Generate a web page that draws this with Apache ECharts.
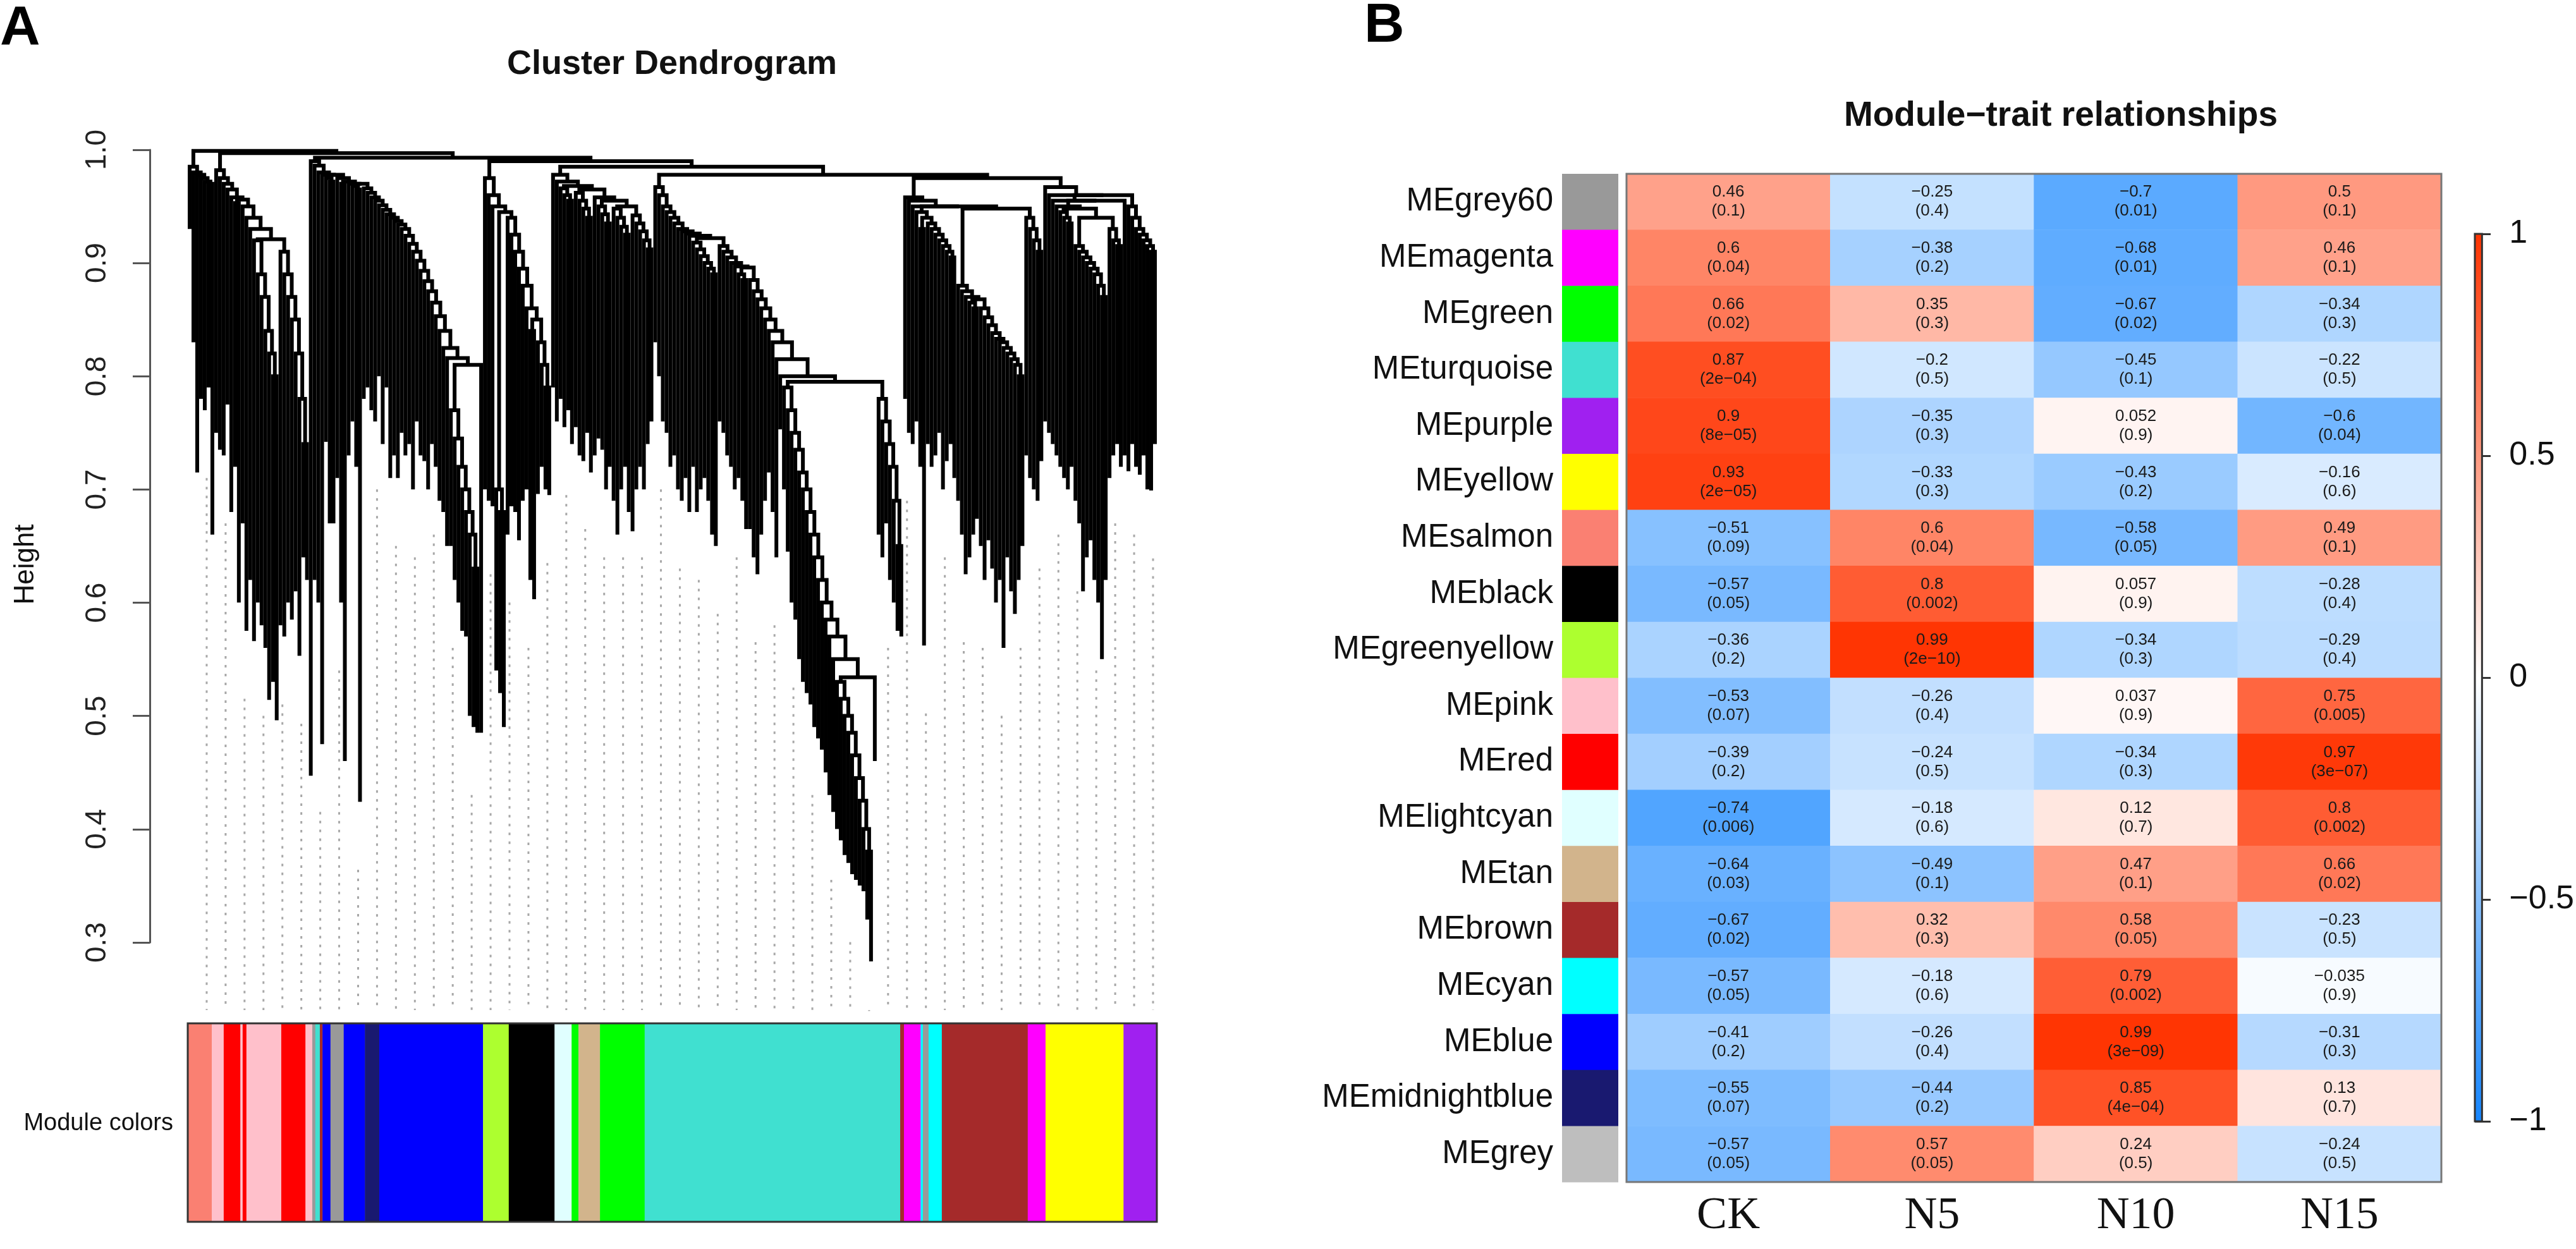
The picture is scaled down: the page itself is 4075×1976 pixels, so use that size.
<!DOCTYPE html>
<html>
<head>
<meta charset="utf-8">
<title>Cluster dendrogram and module-trait relationships</title>
<script src="https://cdn.jsdelivr.net/npm/echarts@6/dist/echarts.min.js"></script>
<style>
  html, body { margin: 0; padding: 0; background: #fff; }
  #main { width: 4075px; height: 1976px; }
</style>
</head>
<body>
<div id="main"></div>
<script>
// Panel A: where each leaf (collapsed branch) ends, left to right
const leafBottoms = [
  0.93, 0.83, 0.715, 0.78, 0.77, 0.79, 0.66,
  0.75, 0.735, 0.73, 0.775, 0.68, 0.72, 0.60,
  0.67, 0.575, 0.62, 0.566, 0.60, 0.58, 0.56, 0.514, 0.53, 0.496,
  0.58, 0.57, 0.60, 0.585, 0.61, 0.553, 0.64, 0.62,
  0.447, 0.62, 0.60, 0.475, 0.742, 0.67, 0.67, 0.71, 0.60, 0.46, 0.73, 0.76, 0.72,
  0.424, 0.78, 0.79, 0.77, 0.76, 0.80, 0.74, 0.79, 0.71, 0.73, 0.71, 0.75, 0.73, 0.74, 0.70, 0.76, 0.73, 0.725, 0.70, 0.74, 0.72, 0.69, 0.68, 0.65,
  0.65, 0.62, 0.60, 0.575, 0.57, 0.50, 0.49, 0.485, 0.485,
  0.70, 0.69, 0.685, 0.54, 0.52, 0.49, 0.66, 0.685, 0.68, 0.655, 0.69, 0.70, 0.62, 0.603, 0.696, 0.72, 0.70, 0.695,
  0.79, 0.76, 0.78, 0.755, 0.77, 0.74, 0.755, 0.73, 0.725, 0.75, 0.715, 0.73, 0.745, 0.735, 0.70, 0.72, 0.69, 0.66, 0.70, 0.72, 0.68, 0.663, 0.70, 0.72, 0.70, 0.74, 0.76,
  0.83, 0.80, 0.76, 0.75, 0.72, 0.73, 0.70, 0.69, 0.71, 0.68,
  0.72, 0.68, 0.70, 0.71, 0.69, 0.66, 0.65,
  0.76, 0.75, 0.73, 0.72, 0.70, 0.71, 0.69, 0.665,
  0.665, 0.64, 0.625, 0.66, 0.69, 0.715, 0.68, 0.64,
  0.753, 0.70, 0.645, 0.60, 0.585, 0.55, 0.53, 0.52, 0.51, 0.49, 0.48, 0.47, 0.45, 0.43, 0.415, 0.40, 0.39, 0.377, 0.37, 0.36, 0.355, 0.35, 0.345, 0.32, 0.283, 0.46,
  0.66, 0.64, 0.67, 0.62, 0.60, 0.575, 0.57,
  0.78, 0.75, 0.74, 0.76, 0.72, 0.562,
  0.74, 0.72, 0.73, 0.75, 0.70, 0.725, 0.74, 0.71,
  0.69, 0.66, 0.625, 0.64, 0.66, 0.674, 0.65, 0.62, 0.655, 0.63, 0.60, 0.62, 0.56, 0.64, 0.61, 0.59, 0.62, 0.65,
  0.73, 0.71, 0.70, 0.69, 0.725,
  0.76, 0.75, 0.74, 0.73, 0.72, 0.71, 0.70, 0.72,
  0.69, 0.67, 0.61, 0.64, 0.655, 0.62, 0.60, 0.55, 0.62,
  0.71, 0.73, 0.74, 0.72,
  0.73, 0.716, 0.74, 0.72, 0.713, 0.73, 0.70, 0.699, 0.74
];

// merge height between leaf i and leaf i + 1
const mergeHeights = [
  0.985, 0.98, 0.978, 0.975, 0.972, 0.97, 0.999,
  0.982, 0.975, 0.97, 0.965, 0.958, 0.953, 0.956,
  0.95, 0.94, 0.93, 0.92, 0.89, 0.87, 0.84, 0.82, 0.80, 0.921,
  0.91, 0.89, 0.87, 0.85, 0.82, 0.78, 0.74, 0.997,
  0.99, 0.986, 0.98, 0.978, 0.975, 0.972, 0.978, 0.975, 0.97, 0.972, 0.97, 0.968, 0.965,
  0.97, 0.966, 0.962, 0.958, 0.955, 0.951, 0.947, 0.943, 0.94, 0.937, 0.934, 0.93, 0.924, 0.917, 0.91, 0.902, 0.893, 0.884, 0.875, 0.865, 0.853, 0.84, 0.825, 0.816,
  0.77, 0.745, 0.72, 0.70, 0.68, 0.66, 0.63, 0.81, 0.993,
  0.975, 0.96, 0.95, 0.70, 0.68, 0.945, 0.94, 0.925, 0.91, 0.895, 0.88, 0.86, 0.84, 0.85, 0.83, 0.81, 0.79, 0.99,
  0.978, 0.972, 0.966, 0.96, 0.955, 0.968, 0.962, 0.955, 0.948, 0.94, 0.965, 0.958, 0.95, 0.943, 0.935, 0.955, 0.948, 0.94, 0.932, 0.925, 0.95, 0.942, 0.935, 0.928, 0.92, 0.912, 0.985,
  0.967, 0.96, 0.95, 0.945, 0.94, 0.935, 0.93, 0.928, 0.926, 0.924,
  0.918, 0.912, 0.906, 0.90, 0.895, 0.89, 0.922,
  0.915, 0.91, 0.905, 0.90, 0.897, 0.89, 0.885, 0.896,
  0.885, 0.875, 0.868, 0.86, 0.85, 0.84, 0.83, 0.815,
  0.80, 0.79, 0.77, 0.75, 0.735, 0.715, 0.70, 0.68, 0.66, 0.64, 0.62, 0.60, 0.585, 0.57, 0.55, 0.53, 0.515, 0.50, 0.485, 0.465, 0.445, 0.425, 0.40, 0.38, 0.534, 0.795,
  0.78, 0.76, 0.74, 0.72, 0.69, 0.65, 0.978,
  0.958, 0.955, 0.95, 0.945, 0.93, 0.94,
  0.935, 0.93, 0.925, 0.92, 0.915, 0.91, 0.905, 0.95,
  0.88, 0.875, 0.87, 0.865, 0.86, 0.868, 0.86, 0.852, 0.845, 0.838, 0.833, 0.83, 0.825, 0.82, 0.815, 0.81, 0.80, 0.948,
  0.94, 0.93, 0.92, 0.91, 0.975,
  0.967, 0.96, 0.955, 0.95, 0.945, 0.94, 0.935, 0.948,
  0.915, 0.91, 0.905, 0.90, 0.895, 0.89, 0.88, 0.87, 0.94,
  0.93, 0.92, 0.915, 0.955,
  0.96, 0.95, 0.94, 0.93, 0.925, 0.92, 0.915, 0.91
];

// module colour bar under the tree: colour name and right end (in leaf units)
const moduleColorNames = [
  'salmon', 'pink', 'red', 'pink', 'red', 'pink', 'red', 'pink', 'grey60', 'turquoise',
  'brown', 'blue', 'grey60', 'blue', 'midnightblue', 'blue', 'greenyellow', 'black',
  'lightcyan', 'green', 'tan', 'green', 'turquoise', 'brown', 'magenta', 'cyan', 'grey60',
  'cyan', 'brown', 'magenta', 'yellow', 'purple'
];
const moduleColorEnds = [
  5.85, 9.0, 13.4, 14.0, 15.0, 24.2, 30.6, 32.4, 33.2, 34.4,
  35.1, 37.2, 40.7, 46.3, 50.1, 77.5, 84.3, 96.4,
  100.9, 102.7, 108.4, 120.2, 187.7, 188.7, 193.1, 193.7, 195.2,
  198.7, 221.4, 226.1, 246.7, 255.5
];

// Panel B: module eigengene / trait correlations and p-values
const traitNames = ['CK', 'N5', 'N10', 'N15'];
const moduleNames = [
  'MEgrey60', 'MEmagenta', 'MEgreen', 'MEturquoise', 'MEpurple', 'MEyellow', 'MEsalmon',
  'MEblack', 'MEgreenyellow', 'MEpink', 'MEred', 'MElightcyan', 'MEtan', 'MEbrown',
  'MEcyan', 'MEblue', 'MEmidnightblue', 'MEgrey'
];
const corCK = [0.46, 0.6, 0.66, 0.87, 0.9, 0.93, -0.51, -0.57, -0.36, -0.53, -0.39, -0.74, -0.64, -0.67, -0.57, -0.41, -0.55, -0.57];
const corN5 = [-0.25, -0.38, 0.35, -0.2, -0.35, -0.33, 0.6, 0.8, 0.99, -0.26, -0.24, -0.18, -0.49, 0.32, -0.18, -0.26, -0.44, 0.57];
const corN10 = [-0.7, -0.68, -0.67, -0.45, 0.052, -0.43, -0.58, 0.057, -0.34, 0.037, -0.34, 0.12, 0.47, 0.58, 0.79, 0.99, 0.85, 0.24];
const corN15 = [0.5, 0.46, -0.34, -0.22, -0.6, -0.16, 0.49, -0.28, -0.29, 0.75, 0.97, 0.8, 0.66, -0.23, -0.035, -0.31, 0.13, -0.24];
const pCK = ['0.1', '0.04', '0.02', '2e-04', '8e-05', '2e-05', '0.09', '0.05', '0.2', '0.07', '0.2', '0.006', '0.03', '0.02', '0.05', '0.2', '0.07', '0.05'];
const pN5 = ['0.4', '0.2', '0.3', '0.5', '0.3', '0.3', '0.04', '0.002', '2e-10', '0.4', '0.5', '0.6', '0.1', '0.3', '0.6', '0.4', '0.2', '0.05'];
const pN10 = ['0.01', '0.01', '0.02', '0.1', '0.9', '0.2', '0.05', '0.9', '0.3', '0.9', '0.3', '0.7', '0.1', '0.05', '0.002', '3e-09', '4e-04', '0.5'];
const pN15 = ['0.1', '0.1', '0.3', '0.5', '0.04', '0.6', '0.1', '0.4', '0.4', '0.005', '3e-07', '0.002', '0.02', '0.5', '0.9', '0.3', '0.7', '0.5'];

const heightTicks = { min: 0.3, max: 1.0, step: 0.1 };
const colorbarTicks = { min: -1, max: 1, step: 0.5 };

// R colour names used for the modules
const rColors = {
  grey60: '#999999', magenta: '#FF00FF', green: '#00FF00', turquoise: '#40E0D0',
  purple: '#A020F0', yellow: '#FFFF00', salmon: '#FA8072', black: '#000000',
  greenyellow: '#ADFF2F', pink: '#FFC0CB', red: '#FF0000', lightcyan: '#E0FFFF',
  tan: '#D2B48C', brown: '#A52A2A', cyan: '#00FFFF', blue: '#0000FF',
  midnightblue: '#191970', grey: '#BEBEBE'
};
const BLUE_END = '#1485FF';
const RED_END = '#FF3300';
const SANS = '"Liberation Sans", Arial, Helvetica, sans-serif';
const SERIF = '"Liberation Serif", "Times New Roman", serif';

const minus = (s) => String(s).replace(/-/g, '\u2212');

/**
 * Build dendrogram segments: the largest gap splits a range of leaves,
 * each merge is drawn as the usual upside-down U.
 */
function buildTree(lo, hi, segs) {
  if (lo === hi) return { x: lo, h: leafBottoms[lo] };
  let k = lo;
  for (let i = lo + 1; i < hi; i++) {
    if (mergeHeights[i] > mergeHeights[k]) k = i;
  }
  const left = buildTree(lo, k, segs);
  const right = buildTree(k + 1, hi, segs);
  const h = mergeHeights[k];
  segs.push({ coords: [[left.x, left.h], [left.x, h], [right.x, h], [right.x, right.h]] });
  return { x: (left.x + right.x) / 2, h };
}

const treeSegments = [];
buildTree(0, leafBottoms.length - 1, treeSegments);

// dotted guide lines below the leaves
const guideSegments = [];
for (let i = 4; i + 1 < leafBottoms.length; i += 5) {
  const top = Math.min(leafBottoms[i], leafBottoms[i + 1]) - 0.06;
  guideSegments.push({ coords: [[i + 0.5, top], [i + 0.5, 0.24]] });
}

const colorBarData = moduleColorEnds.map((end, i) => [i === 0 ? -0.5 : moduleColorEnds[i - 1], end]);

const corColumns = [corCK, corN5, corN10, corN15];
const pColumns = [pCK, pN5, pN10, pN15];
const heatData = [];
corColumns.forEach((col, xi) => {
  col.forEach((v, yi) => {
    heatData.push({ value: [xi, yi, v], p: pColumns[xi][yi] });
  });
});

const leafMax = leafBottoms.length - 0.5;

const chart = echarts.init(document.getElementById('main'));

const option = {
  animation: false,
  backgroundColor: '#ffffff',
  grid: [
    { left: 237, top: 237, width: 1, height: 1254 },
    { left: 297, top: 237, width: 1533, height: 1361 },
    { left: 297, top: 1619, width: 1533, height: 314 },
    { left: 2573, top: 275, width: 1289, height: 1595 },
    { left: 2471, top: 275, width: 89, height: 1595 },
    { left: 3915, top: 370, width: 41, height: 1404 }
  ],
  xAxis: [
    { gridIndex: 0, type: 'value', show: false },
    { gridIndex: 1, type: 'value', min: -0.5, max: leafMax, show: false },
    { gridIndex: 2, type: 'value', min: -0.5, max: leafMax, show: false },
    {
      gridIndex: 3,
      type: 'category',
      data: traitNames,
      position: 'bottom',
      axisLine: { show: false },
      axisTick: { show: false },
      axisLabel: { interval: 0, fontFamily: SERIF, fontSize: 72, color: '#111', margin: 18 }
    },
    { gridIndex: 4, type: 'value', min: 0, max: 1, show: false },
    { gridIndex: 5, type: 'value', min: 0, max: 1, show: false }
  ],
  yAxis: [
    {
      gridIndex: 0,
      type: 'value',
      min: heightTicks.min,
      max: heightTicks.max,
      interval: heightTicks.step,
      axisLine: { show: true, lineStyle: { color: '#555', width: 3 } },
      axisTick: { show: true, length: 27, lineStyle: { color: '#555', width: 3 } },
      axisLabel: {
        rotate: 90,
        margin: 60,
        fontFamily: SANS,
        fontSize: 46,
        color: '#222',
        formatter: (v) => v.toFixed(1)
      },
      splitLine: { show: false }
    },
    { gridIndex: 1, type: 'value', min: 0.24, max: 1.0, show: false },
    { gridIndex: 2, type: 'value', min: 0, max: 1, show: false },
    { gridIndex: 3, type: 'category', data: moduleNames, inverse: true, show: false },
    {
      gridIndex: 4,
      type: 'category',
      data: moduleNames,
      inverse: true,
      axisLine: { show: false },
      axisTick: { show: false },
      axisLabel: { interval: 0, fontFamily: SANS, fontSize: 51, color: '#111', margin: 14 }
    },
    {
      gridIndex: 5,
      type: 'value',
      position: 'right',
      min: colorbarTicks.min,
      max: colorbarTicks.max,
      interval: colorbarTicks.step,
      axisLine: { show: false },
      axisTick: { show: true, length: 25, lineStyle: { color: '#333', width: 3 } },
      axisLabel: { margin: 43, fontFamily: SANS, fontSize: 52, color: '#111', formatter: (v) => minus(v) },
      splitLine: { show: false }
    }
  ],
  visualMap: {
    type: 'continuous',
    show: false,
    min: -1,
    max: 1,
    seriesIndex: 4,
    inRange: { color: [BLUE_END, '#ffffff', RED_END] }
  },
  series: [
    {
      name: 'dendrogram',
      type: 'lines',
      coordinateSystem: 'cartesian2d',
      xAxisIndex: 1,
      yAxisIndex: 1,
      polyline: true,
      silent: true,
      lineStyle: { color: '#000', width: 6, opacity: 1 },
      data: treeSegments,
      z: 3
    },
    {
      name: 'guides',
      type: 'lines',
      coordinateSystem: 'cartesian2d',
      xAxisIndex: 1,
      yAxisIndex: 1,
      polyline: true,
      silent: true,
      lineStyle: { color: '#a8a8a8', width: 3, type: [4, 10], opacity: 1 },
      data: guideSegments,
      z: 2
    },
    {
      name: 'module colors',
      type: 'custom',
      xAxisIndex: 2,
      yAxisIndex: 2,
      silent: true,
      data: colorBarData,
      renderItem(params, api) {
        const p0 = api.coord([api.value(0), 1]);
        const p1 = api.coord([api.value(1), 0]);
        return {
          type: 'rect',
          shape: { x: p0[0], y: p0[1], width: p1[0] - p0[0] + 0.5, height: p1[1] - p0[1] },
          style: { fill: rColors[moduleColorNames[params.dataIndex]] }
        };
      }
    },
    {
      name: 'module colors frame',
      type: 'custom',
      xAxisIndex: 2,
      yAxisIndex: 2,
      silent: true,
      data: [[0, 0]],
      z: 5,
      renderItem(params) {
        const c = params.coordSys;
        return {
          type: 'rect',
          shape: { x: c.x, y: c.y, width: c.width, height: c.height },
          style: { fill: 'none', stroke: '#333', lineWidth: 3 }
        };
      }
    },
    {
      name: 'Module-trait relationships',
      type: 'heatmap',
      xAxisIndex: 3,
      yAxisIndex: 3,
      data: heatData,
      emphasis: { disabled: true },
      label: {
        show: true,
        fontFamily: SANS,
        fontSize: 26,
        lineHeight: 30,
        color: '#1a1a1a',
        formatter: (p) => minus(p.value[2]) + '\n(' + minus(p.data.p) + ')'
      }
    },
    {
      name: 'heatmap frame',
      type: 'custom',
      xAxisIndex: 3,
      yAxisIndex: 3,
      silent: true,
      data: [[0, 0]],
      z: 5,
      renderItem(params) {
        const c = params.coordSys;
        return {
          type: 'rect',
          shape: { x: c.x, y: c.y, width: c.width, height: c.height },
          style: { fill: 'none', stroke: '#777', lineWidth: 3 }
        };
      }
    },
    {
      name: 'module strip',
      type: 'custom',
      xAxisIndex: 4,
      yAxisIndex: 4,
      silent: true,
      data: moduleNames.map((m, i) => [0, i]),
      renderItem(params, api) {
        const top = api.coord([0, api.value(1)]);
        const size = api.size([1, 1]);
        return {
          type: 'rect',
          shape: { x: top[0], y: top[1] - size[1] / 2, width: size[0], height: size[1] + 0.5 },
          style: { fill: rColors[moduleNames[params.dataIndex].slice(2)] }
        };
      }
    },
    {
      name: 'colour key',
      type: 'custom',
      xAxisIndex: 5,
      yAxisIndex: 5,
      silent: true,
      data: [[0, 0]],
      renderItem(params, api) {
        const p0 = api.coord([0, colorbarTicks.max]);
        const p1 = api.coord([1, colorbarTicks.min]);
        return {
          type: 'rect',
          shape: { x: p0[0], y: p0[1], width: p1[0] - p0[0], height: p1[1] - p0[1] },
          style: {
            fill: new echarts.graphic.LinearGradient(0, 0, 0, 1, [
              { offset: 0, color: RED_END },
              { offset: 0.5, color: '#ffffff' },
              { offset: 1, color: BLUE_END }
            ]),
            stroke: '#333',
            lineWidth: 3
          }
        };
      }
    }
  ],
  graphic: [
    { type: 'text', x: 0, y: 46, style: { text: 'A', font: 'bold 88px ' + SANS, fill: '#000', textAlign: 'left', textVerticalAlign: 'middle' } },
    { type: 'text', x: 2158, y: 42, style: { text: 'B', font: 'bold 88px ' + SANS, fill: '#000', textAlign: 'left', textVerticalAlign: 'middle' } },
    { type: 'text', x: 1063, y: 102, style: { text: 'Cluster Dendrogram', font: 'bold 54px ' + SANS, fill: '#111', textAlign: 'center', textVerticalAlign: 'middle' } },
    { type: 'text', x: 3260, y: 184, style: { text: 'Module\u2212trait relationships', font: 'bold 55px ' + SANS, fill: '#111', textAlign: 'center', textVerticalAlign: 'middle' } },
    { type: 'text', x: 41, y: 893, rotation: Math.PI / 2, style: { text: 'Height', font: '44px ' + SANS, fill: '#111', textAlign: 'center', textVerticalAlign: 'middle' } },
    { type: 'text', x: 274, y: 1778, style: { text: 'Module colors', font: '38px ' + SANS, fill: '#111', textAlign: 'right', textVerticalAlign: 'middle' } }
  ]
};

chart.setOption(option);

window.addEventListener('resize', () => {
  chart.resize();
});
</script>
</body>
</html>
